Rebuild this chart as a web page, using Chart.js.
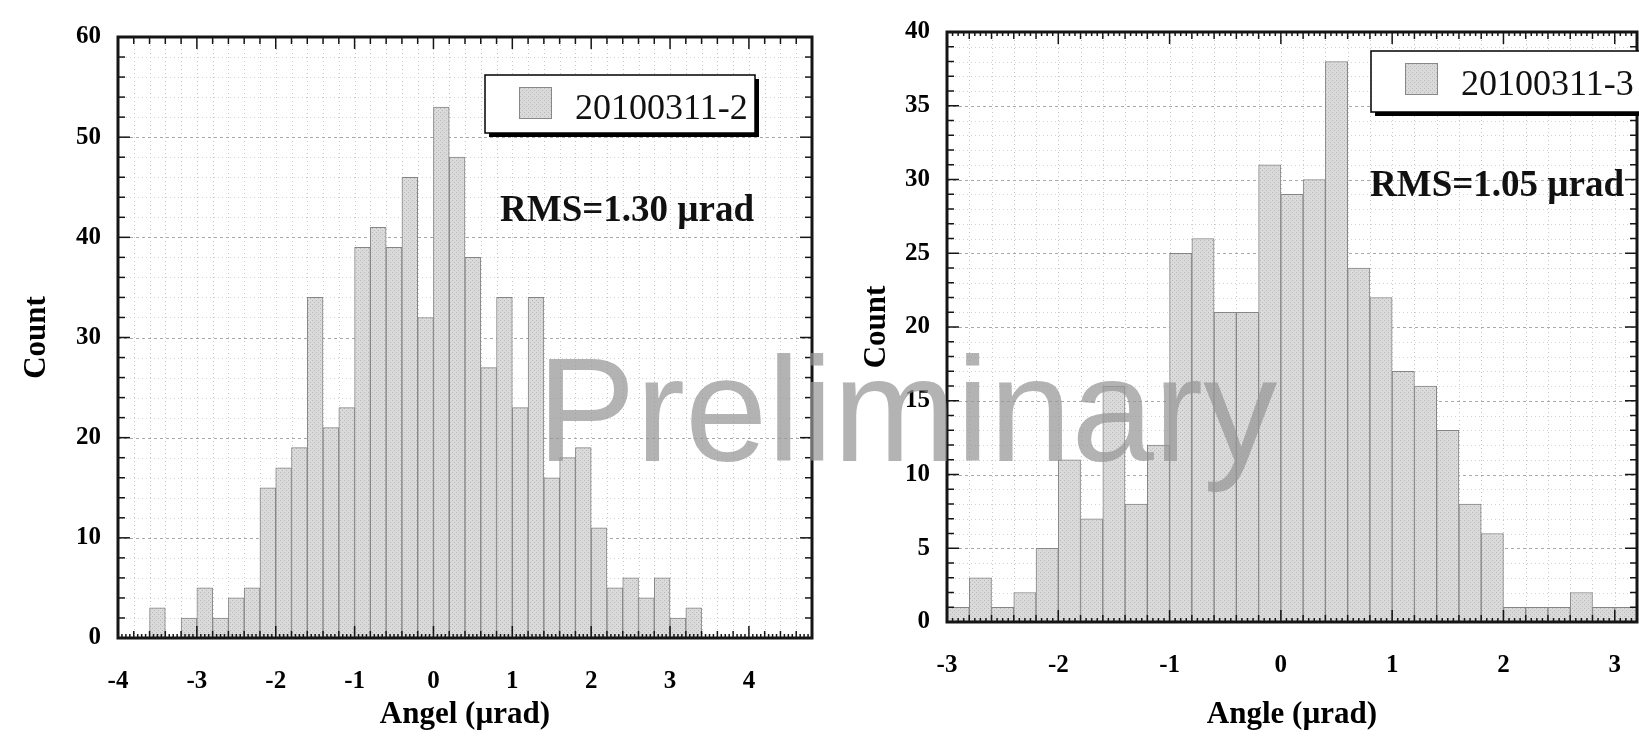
<!DOCTYPE html>
<html>
<head>
<meta charset="utf-8">
<script src="https://cdn.jsdelivr.net/npm/chart.js@4.4.1/dist/chart.umd.min.js"></script>
<style>
  html, body { margin: 0; padding: 0; background: #fff; overflow: hidden; }
  body { width: 1639px; height: 736px; position: relative; }
  canvas { position: absolute; top: 0; }
  #run2 { left: 0; }
  #run3 { left: 840px; }
  .stamp {
    position: absolute; left: 537px; top: 336px;
    font: 148px/1 "Liberation Sans", Arial, sans-serif;
    color: rgba(150, 150, 150, 0.72);
    white-space: nowrap; pointer-events: none;
  }
</style>
</head>
<body>
<canvas id="run2" width="840" height="736"></canvas>
<canvas id="run3" width="900" height="736"></canvas>
<div class="stamp">Preliminary</div>
<script>
// ---- histogram data: left bin edge (µrad) and counts, bin width 0.2 ----
const BIN = 0.2;

const run2Edges = [-3.6, -3.4, -3.2, -3.0, -2.8, -2.6, -2.4, -2.2, -2.0, -1.8, -1.6, -1.4,
  -1.2, -1.0, -0.8, -0.6, -0.4, -0.2, 0.0, 0.2, 0.4, 0.6, 0.8, 1.0, 1.2, 1.4, 1.6, 1.8,
  2.0, 2.2, 2.4, 2.6, 2.8, 3.0, 3.2];
const run2Counts = [3, 0, 2, 5, 2, 4, 5, 15, 17, 19, 34, 21,
  23, 39, 41, 39, 46, 32, 53, 48, 38, 27, 34, 23, 34, 16, 18, 19,
  11, 5, 6, 4, 6, 2, 3];

const run3Edges = [-3.0, -2.8, -2.6, -2.4, -2.2, -2.0, -1.8, -1.6, -1.4, -1.2, -1.0, -0.8,
  -0.6, -0.4, -0.2, 0.0, 0.2, 0.4, 0.6, 0.8, 1.0, 1.2, 1.4, 1.6, 1.8, 2.0, 2.2, 2.4,
  2.6, 2.8, 3.0];
const run3Counts = [1, 3, 1, 2, 5, 11, 7, 16, 8, 12, 25, 26,
  21, 21, 31, 29, 30, 38, 24, 22, 17, 16, 13, 8, 6, 1, 1, 1,
  2, 1, 1];

const run2Label = '20100311-2';
const run3Label = '20100311-3';
const run2Rms = 'RMS=1.30 µrad';
const run3Rms = 'RMS=1.05 µrad';

const SERIF = '"Liberation Serif", "Times New Roman", serif';

// light grey stippled fill used by the bars and the legend swatch
function stipple() {
  const c = document.createElement('canvas');
  c.width = 4; c.height = 4;
  const g = c.getContext('2d');
  g.fillStyle = '#dadada';
  g.fillRect(0, 0, 4, 4);
  g.fillStyle = '#b9b9b9';
  g.fillRect(0, 0, 1, 1);
  g.fillRect(2, 2, 1, 1);
  return g.createPattern(c, 'repeat');
}
const barFill = stipple();

function steps(min, max, step) {
  const out = [];
  const n = Math.round((max - min) / step);
  for (let i = 0; i <= n; i++) out.push(min + i * step);
  return out;
}
const onStep = (v, step) => Math.abs(v / step - Math.round(v / step)) < 1e-6;

function seg(ctx, x1, y1, x2, y2) {
  ctx.beginPath();
  ctx.moveTo(x1, y1);
  ctx.lineTo(x2, y2);
  ctx.stroke();
}

// tick length for a value: first matching level wins, levels go coarse to fine
function tickLen(v, levels) {
  for (const [step, len] of levels) if (onStep(v, step)) return len;
  return 0;
}

// dotted grid behind the bars, boxed frame with inward ticks, legend and RMS note on top
const framePlugin = {
  id: 'frame',
  beforeDatasetsDraw(chart, args, o) {
    const { ctx, chartArea: a, scales: { x, y } } = chart;
    ctx.save();
    ctx.lineWidth = 1;
    ctx.setLineDash([1, 3]);
    ctx.strokeStyle = '#c6c6c6';
    steps(x.min, x.max, o.xGrid).forEach(v => {
      const px = Math.round(x.getPixelForValue(v)) + 0.5;
      seg(ctx, px, a.top, px, a.bottom);
    });
    steps(y.min, y.max, o.yMinor).forEach(v => {
      const py = Math.round(y.getPixelForValue(v)) + 0.5;
      if (onStep(v, o.yMajor)) {
        ctx.setLineDash([3, 3]);
        ctx.strokeStyle = '#a9a9a9';
      } else {
        ctx.setLineDash([1, 3]);
        ctx.strokeStyle = '#d2d2d2';
      }
      seg(ctx, a.left, py, a.right, py);
    });
    ctx.restore();
  },
  afterDatasetsDraw(chart, args, o) {
    const { ctx, chartArea: a, scales: { x, y } } = chart;
    ctx.save();
    ctx.setLineDash([]);
    ctx.strokeStyle = '#151515';
    ctx.lineWidth = 1.5;
    const fine = o.xTop[o.xTop.length - 1][0];
    const fineBottom = o.xBottom[o.xBottom.length - 1][0];
    steps(x.min, x.max, Math.min(fine, fineBottom)).forEach(v => {
      const px = x.getPixelForValue(v);
      const lb = tickLen(v, o.xBottom);
      const lt = tickLen(v, o.xTop);
      if (lb) seg(ctx, px, a.bottom, px, a.bottom - lb);
      if (lt) seg(ctx, px, a.top, px, a.top + lt);
    });
    steps(y.min, y.max, o.yMinor).forEach(v => {
      const py = y.getPixelForValue(v);
      const len = onStep(v, o.yMajor) ? 12 : 7;
      seg(ctx, a.left, py, a.left + len, py);
      seg(ctx, a.right, py, a.right - len, py);
    });
    ctx.lineWidth = 3;
    ctx.strokeRect(a.left, a.top, a.width, a.height);

    // legend box with a drop shadow
    const L = o.legend;
    ctx.fillStyle = '#000';
    ctx.fillRect(L.left + L.w, L.top + 4, 4, L.h);
    ctx.fillRect(L.left + 4, L.top + L.h, L.w, 4);
    ctx.fillStyle = '#fff';
    ctx.fillRect(L.left, L.top, L.w, L.h);
    ctx.lineWidth = 1.5;
    ctx.strokeStyle = '#000';
    ctx.strokeRect(L.left, L.top, L.w, L.h);
    ctx.fillStyle = barFill;
    ctx.fillRect(L.left + 34, L.top + 12, 33, 32);
    ctx.lineWidth = 1;
    ctx.strokeStyle = '#888';
    ctx.strokeRect(L.left + 34.5, L.top + 12.5, 32, 31);
    ctx.fillStyle = '#111';
    ctx.font = '36px ' + SERIF;
    ctx.textBaseline = 'alphabetic';
    ctx.textAlign = 'left';
    ctx.fillText(o.label, L.left + 90, L.top + 44);

    ctx.font = 'bold 37px ' + SERIF;
    ctx.fillText(o.note.text, o.note.x, o.note.y);
    ctx.restore();
  }
};

function histogram(id, c) {
  const tickFont = { family: SERIF, size: 25, weight: 'bold' };
  const titleFont = { family: SERIF, size: 31, weight: 'bold' };
  return new Chart(document.getElementById(id), {
    type: 'bar',
    data: {
      datasets: [{
        data: c.edges.map((e, i) => ({ x: e + BIN / 2, y: c.counts[i] })),
        backgroundColor: barFill,
        borderColor: '#858585',
        borderWidth: 1,
        borderSkipped: false,
        barPercentage: 1,
        categoryPercentage: 1
      }]
    },
    options: {
      responsive: false,
      animation: false,
      devicePixelRatio: 1,
      layout: { padding: { top: c.top, right: c.padRight, left: 0, bottom: 0 } },
      plugins: {
        legend: { display: false },
        tooltip: { enabled: false },
        frame: c.frame
      },
      scales: {
        x: {
          type: 'linear',
          min: c.xMin,
          max: c.xMax,
          offset: false,
          afterFit: s => { s.height = 736 - c.bottom; },
          grid: { display: false, drawTicks: false },
          border: { display: false },
          ticks: {
            stepSize: 1, includeBounds: false, autoSkip: false, maxRotation: 0,
            padding: 29, color: '#000', font: tickFont
          },
          title: { display: true, text: c.xTitle, color: '#000', font: titleFont, padding: { top: 0, bottom: 2 } }
        },
        y: {
          min: 0,
          max: c.yMax,
          afterFit: s => { s.width = c.left; },
          grid: { display: false, drawTicks: false },
          border: { display: false },
          ticks: { stepSize: c.yStep, padding: 17, color: '#000', font: tickFont },
          title: { display: true, text: 'Count', color: '#000', font: titleFont, padding: { top: 18, bottom: 0 } }
        }
      }
    },
    plugins: [framePlugin]
  });
}

histogram('run2', {
  edges: run2Edges, counts: run2Counts,
  xMin: -4, xMax: 4.8, yMax: 60, yStep: 10,
  top: 37, bottom: 638, left: 118, padRight: 28,
  xTitle: 'Angel (µrad)',
  frame: {
    xGrid: 0.2, yMinor: 2, yMajor: 10,
    xTop: [[1, 12], [0.2, 7]],
    xBottom: [[1, 12], [0.2, 7], [0.05, 4]],
    legend: { left: 485, top: 75, w: 270, h: 58 },
    label: run2Label,
    note: { text: run2Rms, x: 500, y: 221 }
  }
});

histogram('run3', {
  edges: run3Edges, counts: run3Counts,
  xMin: -3, xMax: 3.2, yMax: 40, yStep: 5,
  top: 22, bottom: 622, left: 107, padRight: 103,
  xTitle: 'Angle (µrad)',
  frame: {
    xGrid: 0.2, yMinor: 1, yMajor: 5,
    xTop: [[1, 12], [0.2, 7], [0.05, 4]],
    xBottom: [[1, 12], [0.2, 7], [0.05, 4]],
    legend: { left: 531, top: 51, w: 272, h: 61 },
    label: run3Label,
    note: { text: run3Rms, x: 530, y: 196 }
  }
});
</script>
</body>
</html>
